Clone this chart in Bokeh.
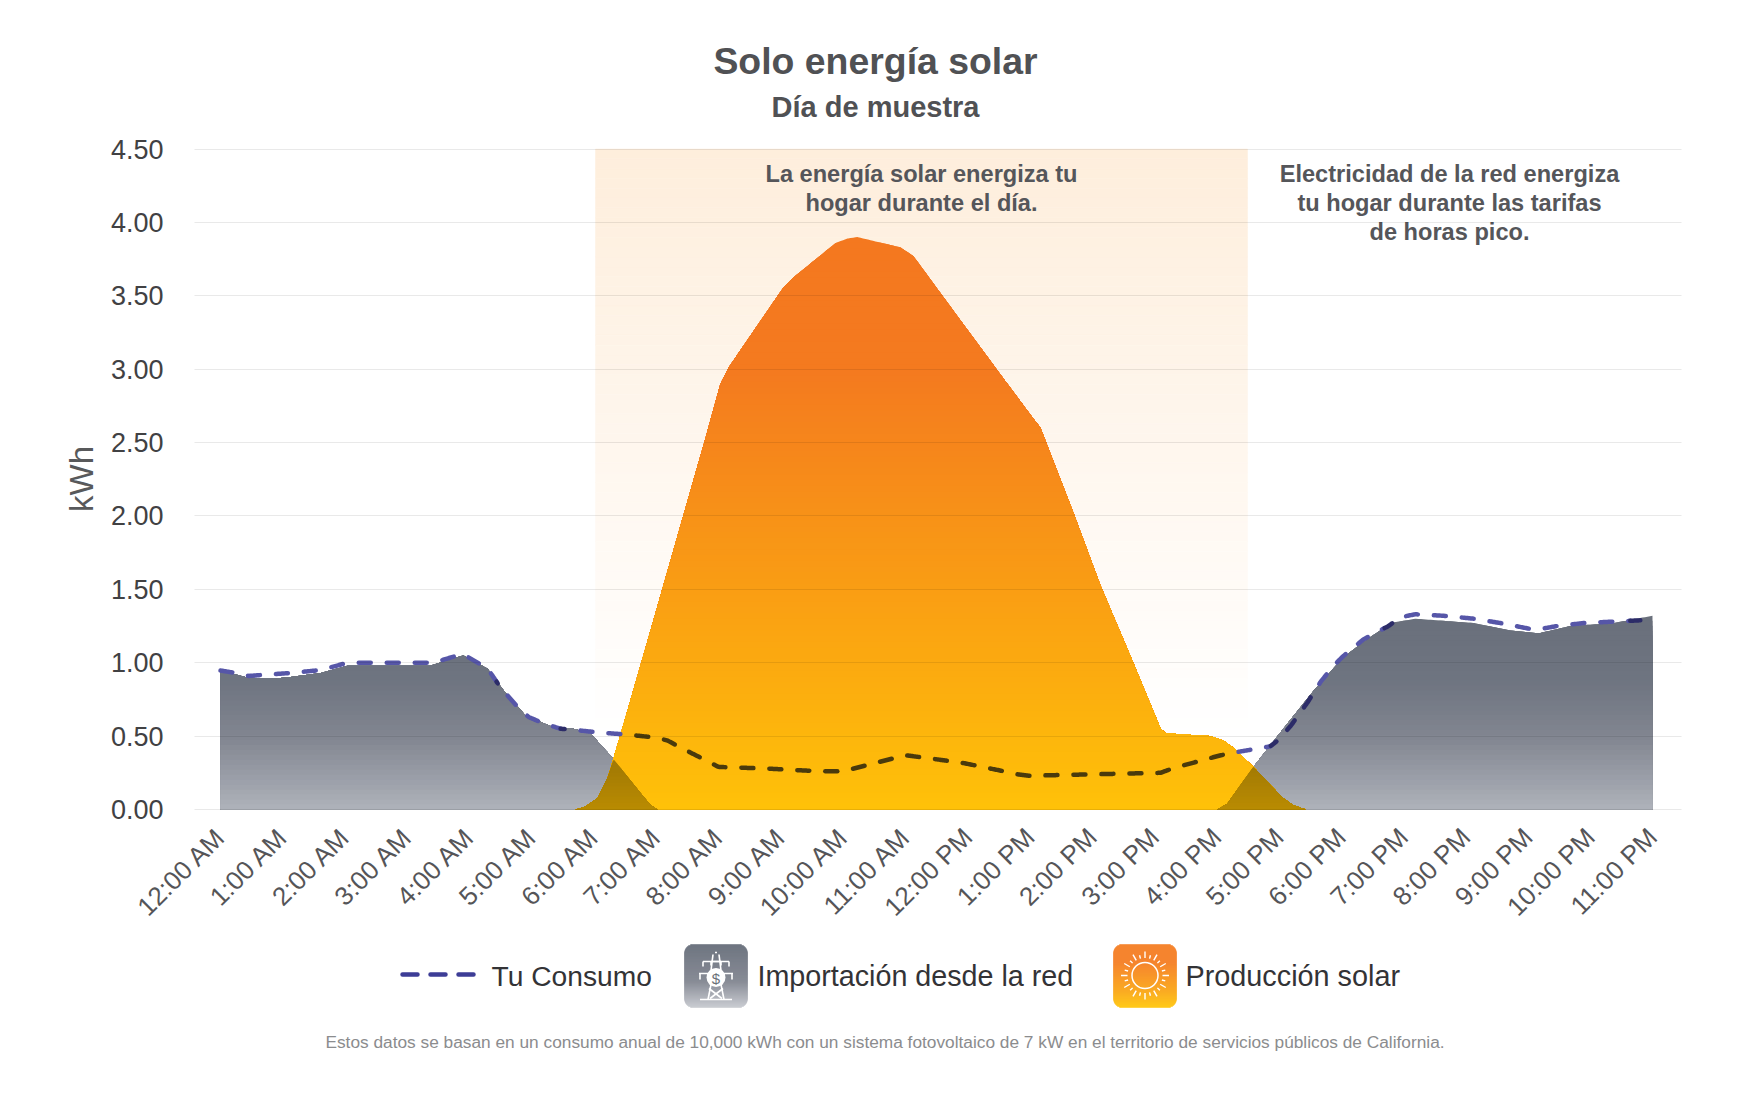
import numpy as np
from bokeh.embed import file_html
from bokeh.layouts import column
from bokeh.models import FixedTicker, Label, NumeralTickFormatter, Range1d
from bokeh.plotting import figure
from bokeh.resources import INLINE

FONT = "Liberation Sans"
title_text = "Solo energía solar"
subtitle_text = "Día de muestra"
y_label = "kWh"
footnote = "Estos datos se basan en un consumo anual de 10,000 kWh con un sistema fotovoltaico de 7 kW en el territorio de servicios públicos de California."
solar_note = ["La energía solar energiza tu", "hogar durante el día."]
grid_note = ["Electricidad de la red energiza", "tu hogar durante las tarifas", "de horas pico."]
legend_names = ["Tu Consumo", "Importación desde la red", "Producción solar"]

hour_labels = ["12:00 AM", "1:00 AM", "2:00 AM", "3:00 AM", "4:00 AM", "5:00 AM", "6:00 AM", "7:00 AM",
               "8:00 AM", "9:00 AM", "10:00 AM", "11:00 AM", "12:00 PM", "1:00 PM", "2:00 PM", "3:00 PM",
               "4:00 PM", "5:00 PM", "6:00 PM", "7:00 PM", "8:00 PM", "9:00 PM", "10:00 PM", "11:00 PM"]
y_ticks = [0, 0.5, 1, 1.5, 2, 2.5, 3, 3.5, 4, 4.5]

solar_h = [0, 5.70, 5.86, 6.06, 6.22, 6.30, 6.46, 6.86, 7.79, 8.03, 8.16, 9.03, 9.19, 9.88, 10.07, 10.23, 10.92,
           11.13, 11.56, 12.48, 13.06, 13.17, 13.70, 14.13, 14.62, 15.10, 15.18, 15.90, 16.11, 16.27,
           16.59, 17.06, 17.23, 17.43, 23]
solar_kwh = [0, 0, 0.02, 0.08, 0.22, 0.33, 0.56, 1.15, 2.53, 2.90, 3.01, 3.55, 3.62, 3.86, 3.89, 3.90, 3.83,
             3.77, 3.52, 2.99, 2.66, 2.60, 2.02, 1.53, 1.04, 0.55, 0.52, 0.50, 0.47, 0.42,
             0.29, 0.08, 0.03, 0, 0]

grid_h = [0, 0.43, 0.75, 1.08, 1.61, 2.04, 3.37, 3.90, 4.29, 4.55, 4.90, 5.35, 5.67, 5.94, 6.30, 6.75, 6.91, 7.02,
          16.01, 16.17, 16.59, 17.07, 17.56, 18.04, 18.42, 18.79, 19.19, 20.13, 20.72, 21.17, 21.68, 22.37, 23]
grid_kwh = [0.947, 0.90, 0.89, 0.90, 0.93, 0.98, 0.98, 1.05, 0.96, 0.81, 0.64, 0.56, 0.55, 0.52, 0.35, 0.11, 0.03, 0,
            0, 0.04, 0.29, 0.55, 0.81, 1.04, 1.16, 1.27, 1.30, 1.27, 1.22, 1.20, 1.25, 1.27, 1.32]

use_h = [0, 0.24, 0.45, 1.12, 1.61, 2.04, 3.42, 3.89, 4.29, 4.50, 4.79, 4.95, 5.17, 5.46, 5.62, 6.07, 6.54, 6.99,
         7.18, 7.42, 7.82, 8.0, 8.72, 9.64, 10.0, 11.0, 11.89, 12.53, 12.80, 12.98, 15.10, 15.29, 15.98, 16.17,
         16.86, 16.98, 17.19, 17.46, 17.67, 17.88, 18.02, 18.36, 18.76, 18.95, 19.19, 19.64, 20.13, 20.56, 21.04,
         21.20, 21.47, 21.89, 22.37, 22.86]
use_kwh = [0.947, 0.93, 0.91, 0.93, 0.95, 1.00, 1.00, 1.06, 0.96, 0.83, 0.69, 0.63, 0.59, 0.55, 0.545, 0.525, 0.51, 0.49,
           0.47, 0.415, 0.33, 0.29, 0.28, 0.26, 0.26, 0.37, 0.32, 0.265, 0.24, 0.23, 0.25, 0.28, 0.36, 0.38,
           0.43, 0.47, 0.57, 0.73, 0.87, 0.98, 1.04, 1.16, 1.25, 1.31, 1.33, 1.32, 1.30, 1.27, 1.23,
           1.23, 1.25, 1.27, 1.28, 1.29]

# page geometry (page pixels)
FL, FR, FT, FB = 194, 1681, 148.5, 809
FRAME_T, FRAME_B = 146, 811
HX0, HPX = 220.0, 62.26
PXY = (FB - FT) / 4.5
W = 1750
H0 = 126                 # header strip
H1 = 941 - H0            # chart
H2 = 1095 - 941          # legend strip


def hx(px):
    return (px - HX0) / HPX


def vy(py):
    return (FB - py) / PXY


def mix(c0, c1, t):
    return "#%02x%02x%02x" % tuple(int(round(a + (b - a) * t)) for a, b in zip(c0, c1))


def ramp(stops, lev):
    """colour at a level, from (level, rgb) stops with rising levels"""
    ls = [s[0] for s in stops]
    return "#%02x%02x%02x" % tuple(int(round(np.interp(lev, ls, [s[1][k] for s in stops]))) for k in range(3))


def strip(top, height):
    f = figure(width=W, height=height, output_backend="svg", toolbar_location=None,
               x_range=Range1d(FL, FR), y_range=Range1d(top + height, top),
               x_axis_location=None, y_axis_location=None, min_border=0,
               min_border_left=FL, min_border_right=W - FR, outline_line_color=None)
    f.grid.visible = False
    return f


p = figure(width=W, height=H1, output_backend="svg", toolbar_location=None,
           x_range=Range1d(hx(FL), hx(FR)), y_range=Range1d(vy(FRAME_B), vy(FRAME_T)),
           min_border_left=FL, min_border_right=W - FR, min_border_top=FRAME_T - H0, min_border_bottom=H0 + H1 - FRAME_B,
           outline_line_color=None, background_fill_color="white", border_fill_color="white")
p.xgrid.visible = False
p.ygrid.ticker = FixedTicker(ticks=y_ticks)
p.ygrid.grid_line_color = "#000000"
p.ygrid.grid_line_alpha = 0.085
p.ygrid.level = "overlay"

p.xaxis.ticker = FixedTicker(ticks=list(range(24)))
p.xaxis.major_label_overrides = {i: s for i, s in enumerate(hour_labels)}
p.xaxis.major_label_orientation = np.pi / 4
p.xaxis.major_label_text_font = FONT
p.xaxis.major_label_text_font_size = "26px"
p.xaxis.major_label_text_color = "#555558"
p.xaxis.major_label_standoff = 15
p.xaxis.axis_line_color = None
p.xaxis.major_tick_line_color = None
p.xaxis.minor_tick_line_color = None

p.yaxis.ticker = FixedTicker(ticks=y_ticks)
p.yaxis.formatter = NumeralTickFormatter(format="0.00")
p.yaxis.major_label_text_font = FONT
p.yaxis.major_label_text_font_size = "27px"
p.yaxis.major_label_text_color = "#414143"
p.yaxis.major_label_standoff = 25
p.yaxis.axis_line_color = None
p.yaxis.major_tick_line_color = None
p.yaxis.minor_tick_line_color = None
p.yaxis.axis_label = y_label
p.yaxis.axis_label_text_font = FONT
p.yaxis.axis_label_text_font_style = "normal"
p.yaxis.axis_label_text_font_size = "33px"
p.yaxis.axis_label_text_color = "#58595b"
p.yaxis.axis_label_standoff = 8

# dense grid only for the gradient geometry of the bands
xx = np.unique(np.concatenate([np.arange(0, 23.001, 0.04), solar_h, grid_h]))
sol = np.interp(xx, solar_h, solar_kwh)
gri = np.interp(xx, grid_h, grid_kwh)


def gradient(curve, stops, n):
    """painter's stack of the clipped curve, top colour first"""
    xs, ys, cs = [], [], []
    mask = curve > 0
    edge = np.convolve(mask.astype(float), [1, 1, 1], "same") > 0
    top_level = curve.max()
    for lev in np.linspace(top_level, 0, n):
        top = np.minimum(curve, lev)
        xs.append(np.concatenate([xx[edge], xx[edge][::-1]]))
        ys.append(np.concatenate([top[edge], np.zeros(edge.sum())]))
        cs.append(ramp(stops, lev))
    p.patches(xs, ys, fill_color=cs, line_color=None)


GRAY = [(0, (176, 180, 188)), (0.5, (130, 134, 145)), (0.9, (110, 116, 128)), (1.3, (106, 112, 124))]
ORANGE = [(0, (255, 194, 8)), (3.0, (244, 122, 31)), (3.9, (244, 120, 31))]
OLIVE = [(0, (186, 140, 2)), (0.6, (140, 105, 5))]

# shaded midday band
levels = 60
top_v, bot_v = 4.5, vy(737)
edges = np.linspace(top_v, bot_v, levels + 1)
band_c = [mix((254, 238, 220), (255, 255, 255), i / (levels - 1)) for i in range(levels)]
p.quad(left=hx(595), right=hx(1247), top=edges[:-1], bottom=edges[1:], fill_color=band_c, line_color=band_c, line_width=0.5)

gradient(gri, GRAY, 40)
gradient(sol, ORANGE, 100)
gradient(np.minimum(sol, gri), OLIVE, 16)

# consumption line: dashes walked in screen space, tinted by what lies beneath them
uh, uk = np.array(use_h), np.array(use_kwh)
sx, sy = uh * HPX, uk * PXY
dist = np.concatenate([[0], np.cumsum(np.hypot(np.diff(sx), np.diff(sy)))])
ON, PERIOD = 12.0, 28.0
seg_x, seg_y, seg_c = [], [], []
for start in np.arange(0, dist[-1], PERIOD):
    ds = np.arange(start, min(start + ON, dist[-1]) + 0.01, 1.0)
    hs, ks = np.interp(ds, dist, uh), np.interp(ds, dist, uk)
    cols = np.where(ks < np.interp(hs, solar_h, solar_kwh), 2,
                    np.where(ks < np.interp(hs, grid_h, grid_kwh) - 0.006, 1, 0))
    i = 0
    while i < len(ds) - 1:
        j = i + 1
        while j < len(ds) - 1 and cols[j] == cols[i]:
            j += 1
        seg_x.append(hs[i:j + 1])
        seg_y.append(ks[i:j + 1])
        seg_c.append(["#5656a8", "#2c2c68", "#4a3a0c"][cols[i]])
        i = j
p.multi_line(seg_x, seg_y, line_color=seg_c, line_width=4.5, line_cap="round", line_join="round")


def text(fig, s, x, y, size, color, bold=False, align="center", baseline="middle"):
    fig.add_layout(Label(x=x, y=y, text=s, text_font=FONT, text_font_size=size, text_color=color,
                         text_font_style="bold" if bold else "normal", text_align=align, text_baseline=baseline))


for i, s in enumerate(solar_note):
    text(p, s, hx(921), vy(173 + 29 * i), "23.6px", "#55565a", True)
for i, s in enumerate(grid_note):
    text(p, s, hx(1449), vy(173 + 29 * i), "23.6px", "#55565a", True)

# header strip, in page pixels
h = strip(0, H0)
text(h, title_text, 875, 60, "37.4px", "#505154", True)
text(h, subtitle_text, 875, 106, "29px", "#505154", True)

# legend strip, in page pixels
q = strip(H0 + H1, H2)
q.line([402, 474], [974, 974], line_color="#3d3d96", line_width=4.5, line_dash="15 13", line_cap="round")


def icon(x0, x1, y0, y1, stops, r=9):
    rows = np.arange(y0, y1)
    inset = []
    for y in rows + 0.5:
        d = max(y0 + r - y, y - (y1 - r), 0)
        inset.append(r - np.sqrt(max(r * r - d * d, 0)))
    inset = np.array(inset)
    cols = [ramp(stops, (y1 - 1 - y) / (y1 - y0 - 1)) for y in rows]
    q.quad(left=x0 + inset, right=x1 - inset, top=rows, bottom=rows + 1, fill_color=cols, line_color=cols, line_width=0.5)


icon(684, 747, 944, 1007, [(0, (196, 199, 205)), (0.4, (128, 132, 143)), (1, (101, 108, 120))])
icon(1113, 1176, 944, 1007, [(0, (255, 196, 10)), (0.25, (250, 165, 20)), (0.7, (245, 125, 32)), (1, (245, 125, 32))])

# sun
cx, cy = 1144.5, 975
q.circle([cx], [cy], radius=13, fill_color=None, line_color="white", line_width=1.5)
ang = np.arange(24) * np.pi / 12
outer = np.where(np.arange(24) % 2 == 0, 24, 21)
q.segment(cx + 17.5 * np.cos(ang), cy + 17.5 * np.sin(ang), cx + outer * np.cos(ang), cy + outer * np.sin(ang),
          line_color="white", line_width=1.4)

# pylon
c = 715.5
tower_x = [[c - 1, c + 1], [c - 16, c + 16], [c - 13, c + 13], [c - 17, c + 17], [c - 5, c - 8], [c + 5, c + 8],
           [c - 7, c + 6], [c + 7, c - 6], [c - 13, c - 13], [c + 13, c + 13], [c - 16, c - 16], [c + 16, c + 16],
           [c - 3, c - 5], [c + 3, c + 5], [c - 5, c - 5, c + 5, c + 5]]
tower_y = [[952, 952], [999, 999], [961, 961], [973, 973], [984, 999], [984, 999],
           [988, 998], [988, 998], [961, 966], [961, 966], [973, 979], [973, 979],
           [954, 970], [954, 970], [965, 961, 961, 965]]
q.multi_line(tower_x, tower_y, line_color="white", line_width=1.6)
q.circle([c], [977], radius=9.5, fill_color="white", line_color=None)
text(q, "$", c, 977.5, "15px", "#6b7079")

text(q, legend_names[0], 491, 975, "28.2px", "#333336", align="left")
text(q, legend_names[1], 757, 975, "28.7px", "#333336", align="left")
text(q, legend_names[2], 1185, 975, "28.8px", "#333336", align="left")
text(q, footnote, 884.5, 1041, "17.3px", "#8b8c8e")

open("out.html", "w").write(file_html(column(h, p, q, spacing=0), INLINE))
